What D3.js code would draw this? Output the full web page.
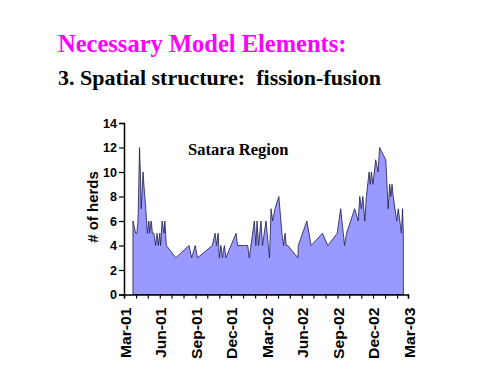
<!DOCTYPE html>
<html>
<head>
<meta charset="utf-8">
<script src="https://cdn.jsdelivr.net/npm/d3@7"></script>
<style>
  body { margin: 0; background: #fff; }
  svg { display: block; }
</style>
</head>
<body>
<div id="viz"></div>
<script>
// Datos: fecha de observación y número de manadas
const dates = [
  "2001-03-24","2001-03-31","2001-04-03","2001-04-06","2001-04-10","2001-04-12","2001-04-14",
  "2001-04-19","2001-04-21","2001-04-26","2001-04-30","2001-05-04","2001-05-06","2001-05-10",
  "2001-05-13","2001-05-17","2001-05-21","2001-05-25","2001-05-28","2001-06-01","2001-06-03",
  "2001-06-07","2001-06-12","2001-06-14","2001-06-18","2001-07-12","2001-08-15","2001-08-22",
  "2001-08-31","2001-09-06","2001-10-14","2001-10-21","2001-10-25","2001-10-29","2001-11-01",
  "2001-11-05","2001-11-09","2001-11-14","2001-11-18","2001-12-14","2001-12-18","2002-01-13",
  "2002-01-17","2002-01-30","2002-02-03","2002-02-06","2002-02-10","2002-02-16","2002-02-20",
  "2002-03-01","2002-03-07","2002-03-10","2002-03-14","2002-03-18","2002-03-24","2002-04-03",
  "2002-04-11","2002-04-15","2002-04-19","2002-04-22","2002-04-26","2002-05-22","2002-05-23",
  "2002-06-14","2002-06-25","2002-07-24","2002-08-07","2002-08-31","2002-09-09","2002-09-19",
  "2002-09-24","2002-10-15","2002-10-24","2002-10-28","2002-11-01","2002-11-05","2002-11-10",
  "2002-11-14","2002-11-21","2002-11-24","2002-11-27","2002-12-01","2002-12-08","2002-12-14",
  "2002-12-18","2003-01-03","2003-01-09","2003-01-13","2003-01-16","2003-01-19","2003-01-22",
  "2003-01-31","2003-02-04","2003-02-08","2003-02-12","2003-02-15","2003-02-17"
];
const herds = [
  6, 5, 5, 6, 12, 10, 7,
  10, 9, 7, 5, 6, 5, 6,
  5, 5, 4, 5, 4, 5, 4,
  6, 5, 6, 4, 3, 4, 3,
  4, 3, 4, 5, 4, 5, 3,
  4, 3, 4, 3, 5, 4, 4,
  3, 6, 4, 6, 4, 6, 4,
  6, 4, 3, 7, 6, 7, 8,
  5, 4, 5, 4, 4, 3, 4,
  6, 4, 5, 4, 5, 7, 4,
  5, 7, 6, 8, 7, 8, 6,
  8, 10, 9, 10, 9, 11, 10,
  12, 11, 7, 9, 8, 9, 8,
  6, 7, 6, 5, 7, 5
];
const yTicks = [0, 2, 4, 6, 8, 10, 12, 14];
const xLabelMonths = ["2001-03-01","2001-06-01","2001-09-01","2001-12-01","2002-03-01",
                      "2002-06-01","2002-09-01","2002-12-01","2003-03-01"];

const W = 500, H = 375;
const parse = d3.utcParse("%Y-%m-%d");
const rows = dates.map((d, i) => ({ date: parse(d), value: herds[i] }));

const serif = "'Liberation Serif', 'Times New Roman', serif";
const sans = "'Liberation Sans', Arial, sans-serif";

const svg = d3.select("#viz").append("svg")
  .attr("width", W).attr("height", H);

// Títulos
svg.append("text")
  .attr("x", 58).attr("y", 52)
  .attr("font-family", serif)
  .attr("font-weight", "bold").attr("font-size", 24.5)
  .attr("fill", "#ff00ff")
  .text("Necessary Model Elements:");
svg.append("text")
  .attr("x", 58).attr("y", 85)
  .attr("font-family", serif)
  .attr("font-weight", "bold").attr("font-size", 22)
  .attr("fill", "#000")
  .attr("xml:space", "preserve")
  .text("3. Spatial structure:  fission-fusion");

// Escalas
const x = d3.scaleUtc()
  .domain([parse("2001-03-01"), parse("2003-03-01")])
  .range([124, 408]);
const y = d3.scaleLinear().domain([0, 14]).range([294.5, 123]);

// Área
const area = d3.area()
  .x(d => x(d.date))
  .y0(y(0))
  .y1(d => y(d.value));
svg.append("path")
  .datum(rows)
  .attr("fill", "#9999ff")
  .attr("stroke", "#1a1a4a")
  .attr("stroke-width", 0.8)
  .attr("d", area);

// Eje Y
const yAxis = svg.append("g")
  .attr("transform", `translate(${x.range()[0]},0)`)
  .call(d3.axisLeft(y).tickValues(yTicks).tickSize(5).tickPadding(2));
yAxis.select(".domain").attr("stroke", "#000").attr("stroke-width", 1.5);
yAxis.selectAll(".tick line").attr("stroke", "#000").attr("stroke-width", 1.2);
yAxis.selectAll(".tick text")
  .attr("font-family", sans)
  .attr("font-weight", "bold").attr("font-size", 12.5).attr("fill", "#000");

// Eje X: ticks mensuales, etiquetas trimestrales
const xAxis = svg.append("g")
  .attr("transform", `translate(0,${y(0)})`)
  .call(d3.axisBottom(x).ticks(d3.utcMonth.every(1)).tickSize(4).tickFormat(""));
xAxis.select(".domain").attr("stroke", "#000").attr("stroke-width", 1.5);
xAxis.selectAll(".tick line").attr("stroke", "#000").attr("stroke-width", 1.2);

const fmt = d3.utcFormat("%b-%y");
svg.append("g").selectAll("text")
  .data(xLabelMonths.map(parse))
  .join("text")
    .attr("transform", d => `translate(${x(d) + 6.5},${y(0) + 13}) rotate(-90) scale(1.12,1)`)
    .attr("text-anchor", "end")
    .attr("font-family", sans)
    .attr("font-weight", "bold").attr("font-size", 14).attr("fill", "#000")
    .text(fmt);

// Título eje Y
svg.append("text")
  .attr("transform", `translate(98,207) rotate(-90)`)
  .attr("text-anchor", "middle")
  .attr("font-family", sans)
  .attr("font-weight", "bold").attr("font-size", 15)
  .text("# of herds");

// Etiqueta de región
svg.append("text")
  .attr("x", 188).attr("y", 155)
  .attr("font-family", serif)
  .attr("font-weight", "bold").attr("font-size", 16.5)
  .text("Satara Region");
</script>
</body>
</html>
